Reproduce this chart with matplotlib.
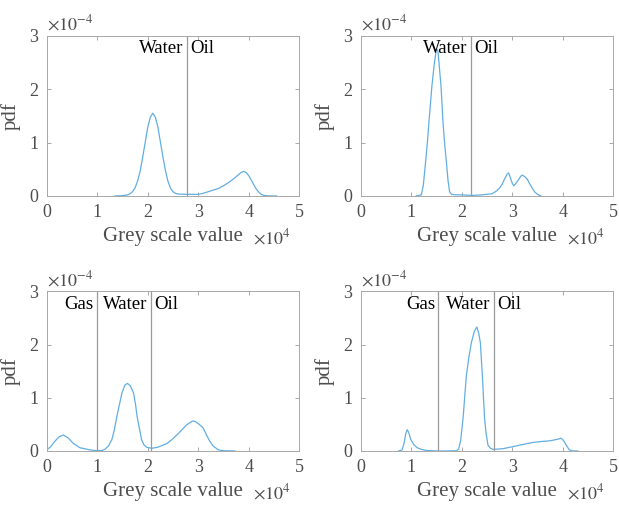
import matplotlib
matplotlib.use("Agg")
import matplotlib.pyplot as plt

plt.rcParams['font.family'] = ['Liberation Serif', 'DejaVu Serif']
plt.rcParams['mathtext.fontset'] = 'stix'

# grey value in units of 1e4, pdf in units of 1e-4
tl_x = [1.35, 1.5, 1.6, 1.65, 1.7, 1.75, 1.8, 1.85, 1.9, 1.95, 2.0, 2.05, 2.1, 2.15, 2.2, 2.25, 2.3,
        2.35, 2.4, 2.45, 2.5, 2.55, 2.6, 2.8, 3.0, 3.1, 3.2, 3.3, 3.4, 3.5, 3.6, 3.7, 3.8, 3.85, 3.9,
        3.95, 4.0, 4.05, 4.1, 4.15, 4.2, 4.25, 4.3, 4.4, 4.55]
tl_y = [0, 0.005, 0.02, 0.04, 0.08, 0.15, 0.28, 0.46, 0.72, 1.0, 1.28, 1.47, 1.55, 1.48, 1.30, 1.02,
        0.74, 0.48, 0.28, 0.15, 0.08, 0.05, 0.035, 0.03, 0.03, 0.05, 0.08, 0.11, 0.14, 0.19, 0.25, 0.32,
        0.40, 0.44, 0.46, 0.44, 0.38, 0.30, 0.21, 0.13, 0.07, 0.03, 0.01, 0, 0]

tr_x = [1.1, 1.2, 1.24, 1.29, 1.32, 1.35, 1.38, 1.41, 1.46, 1.49, 1.51, 1.53, 1.55, 1.59, 1.61, 1.63,
        1.66, 1.70, 1.73, 1.76, 1.8, 1.9, 2.0, 2.2, 2.4, 2.6, 2.7, 2.75, 2.8, 2.85, 2.9, 2.93, 2.96,
        3.0, 3.03, 3.07, 3.12, 3.17, 3.2, 3.25, 3.3, 3.35, 3.4, 3.45, 3.5, 3.57]
tr_y = [0, 0.02, 0.2, 0.69, 1.0, 1.37, 1.72, 2.06, 2.5, 2.7, 2.75, 2.7, 2.5, 2.06, 1.72, 1.37, 1.0,
        0.6, 0.28, 0.08, 0.03, 0.02, 0.02, 0.01, 0.02, 0.04, 0.1, 0.15, 0.22, 0.32, 0.41, 0.43, 0.35,
        0.24, 0.19, 0.23, 0.30, 0.37, 0.39, 0.36, 0.31, 0.22, 0.14, 0.07, 0.03, 0]

bl_x = [0, 0.08, 0.16, 0.25, 0.33, 0.42, 0.53, 0.66, 0.86, 1.0, 1.1, 1.15, 1.22, 1.29, 1.34, 1.39,
        1.44, 1.49, 1.55, 1.60, 1.66, 1.72, 1.76, 1.79, 1.84, 1.88, 1.93, 1.98, 2.08, 2.2, 2.38, 2.5,
        2.64, 2.77, 2.89, 2.95, 3.02, 3.10, 3.16, 3.23, 3.3, 3.4, 3.5, 3.73]
bl_y = [0.02, 0.08, 0.18, 0.27, 0.30, 0.25, 0.14, 0.06, 0.02, 0.005, 0.01, 0.03, 0.09, 0.21, 0.40,
        0.65, 0.87, 1.09, 1.24, 1.27, 1.22, 1.09, 0.87, 0.65, 0.40, 0.21, 0.11, 0.07, 0.05, 0.07, 0.14,
        0.23, 0.36, 0.49, 0.565, 0.55, 0.50, 0.43, 0.31, 0.18, 0.09, 0.02, 0.005, 0]

br_x = [0.75, 0.82, 0.86, 0.89, 0.92, 0.95, 0.99, 1.05, 1.12, 1.2, 1.3, 1.5, 1.7, 1.9, 1.94, 1.98,
        2.03, 2.09, 2.14, 2.19, 2.25, 2.30, 2.34, 2.37, 2.41, 2.45, 2.48, 2.52, 2.57, 2.62, 2.8, 3.01,
        3.2, 3.41, 3.6, 3.74, 3.9, 3.97, 4.02, 4.07, 4.13, 4.2, 4.3]
br_y = [0, 0.02, 0.15, 0.32, 0.40, 0.35, 0.22, 0.12, 0.06, 0.03, 0.01, 0, 0, 0.005, 0.04, 0.2,
        0.65, 1.40, 1.75, 2.03, 2.25, 2.33, 2.2, 2.03, 1.40, 0.65, 0.35, 0.11, 0.05, 0.03, 0.04, 0.08,
        0.12, 0.16, 0.18, 0.19, 0.22, 0.24, 0.19, 0.11, 0.02, 0, 0]

# thresholds between phases (1e4) and phase names
tl_lines = [2.78]
tr_lines = [2.19]
bl_lines = [1.0, 2.065]
br_lines = [1.54, 2.64]
tl_names = ['Water', 'Oil']
tr_names = ['Water', 'Oil']
bl_names = ['Gas', 'Water', 'Oil']
br_names = ['Gas', 'Water', 'Oil']

xticks = [0, 1, 2, 3, 4, 5]
yticks = [0, 1, 2, 3]

fig = plt.figure(figsize=(6.19, 5.05), dpi=100)
W = 0.408
positions = [
    [0.0754, 0.612, W, 0.317],
    [0.5827, 0.612, W, 0.317],
    [0.0754, 0.107, W, 0.316],
    [0.5827, 0.107, W, 0.316],
]
panels = [
    (tl_x, tl_y, tl_lines, tl_names),
    (tr_x, tr_y, tr_lines, tr_names),
    (bl_x, bl_y, bl_lines, bl_names),
    (br_x, br_y, br_lines, br_names),
]

grey = '#4d4d4d'
for pos, (xs, ys, lines, names) in zip(positions, panels):
    ax = fig.add_axes(pos)
    ax.plot([v * 1e4 for v in xs], [v * 1e-4 for v in ys], color='#62aee2', lw=0.9)
    for xl in lines:
        ax.plot([xl * 1e4, xl * 1e4], [0, 3e-4], color='#9a9a9a', lw=0.9)
    # labels sit either side of each threshold line
    for i, name in enumerate(names):
        if i < len(lines):
            ax.text(lines[i] * 1e4 - 700, 2.76e-4, name, ha='right', va='center', fontsize=13.5)
        else:
            ax.text(lines[-1] * 1e4 + 600, 2.76e-4, name, ha='left', va='center', fontsize=13.5)
    ax.set_xlim(0, 5e4)
    ax.set_ylim(0, 3e-4)
    ax.set_xticks([t * 1e4 for t in xticks])
    ax.set_xticklabels([str(t) for t in xticks])
    ax.set_yticks([t * 1e-4 for t in yticks])
    ax.set_yticklabels([str(t) for t in yticks])
    ax.tick_params(direction='in', top=True, right=True, length=3, width=0.6,
                   colors='#9a9a9a', labelcolor=grey, labelsize=13, pad=6)
    for s in ax.spines.values():
        s.set_color('#a8a8a8')
        s.set_linewidth(0.7)
    ax.set_xlabel('Grey scale value', fontsize=15, color=grey, labelpad=4)
    ax.set_ylabel('pdf', fontsize=15, color=grey, labelpad=6)
    ax.text(0.0, 1.01, r'$\times10^{-4}$', transform=ax.transAxes, ha='left', va='bottom',
            fontsize=13, color=grey)
    ax.text(0.965, -0.265, r'$\times10^{4}$', transform=ax.transAxes, ha='right', va='center',
            fontsize=13, color=grey)

fig.savefig('out.png', dpi=100)
